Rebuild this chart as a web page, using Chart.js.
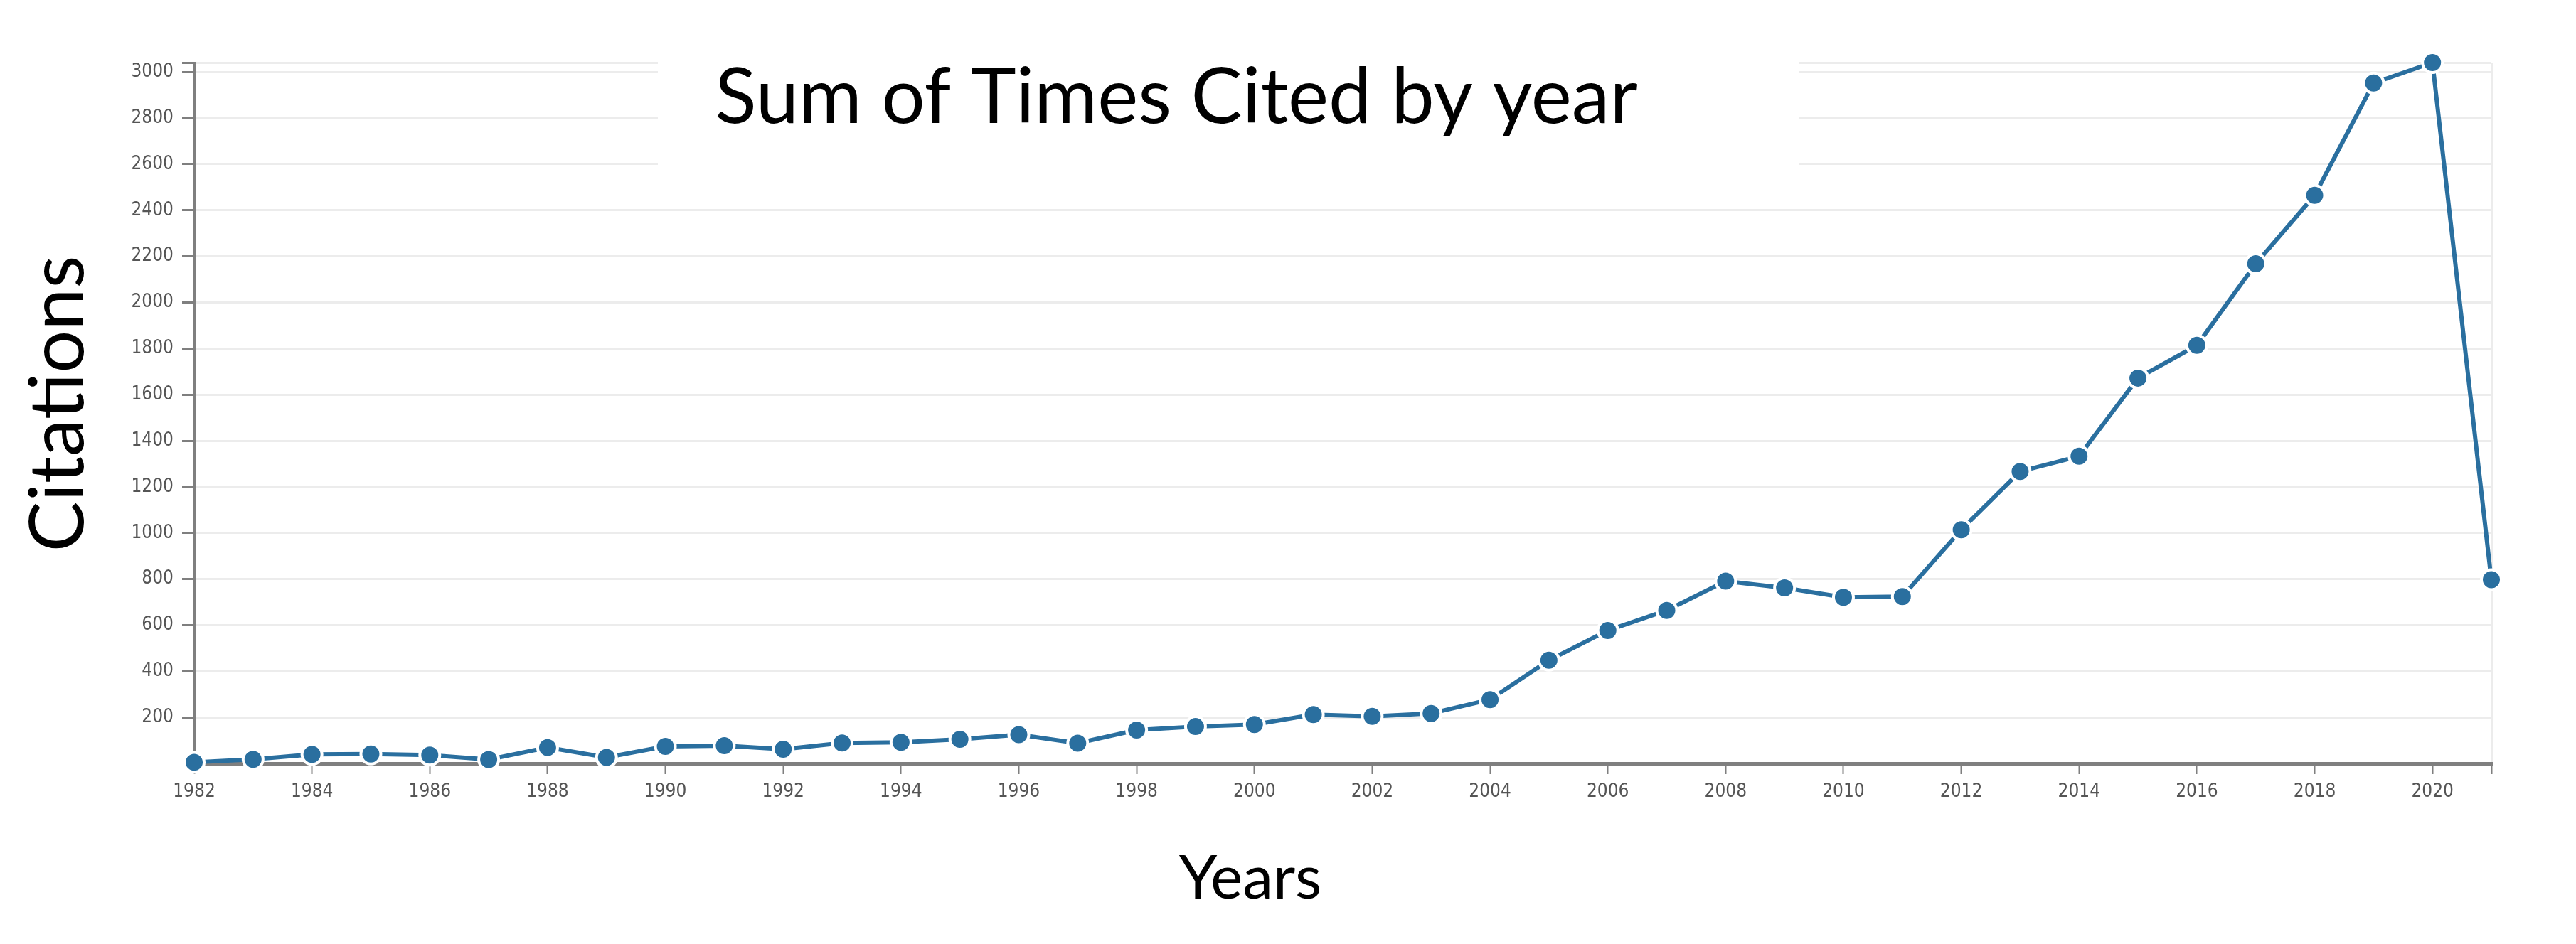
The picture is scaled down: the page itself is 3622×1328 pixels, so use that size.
<!DOCTYPE html>
<html>
<head>
<meta charset="utf-8">
<script src="https://cdn.jsdelivr.net/npm/chart.js@4/dist/chart.umd.min.js"></script>
<style>
  html, body { margin: 0; padding: 0; background: #fff; }
  canvas { display: block; }
</style>
</head>
<body>
<canvas id="c" width="3622" height="1328"></canvas>
<script>
// ---- data ----
const years = [1982,1983,1984,1985,1986,1987,1988,1989,1990,1991,1992,1993,1994,1995,1996,1997,1998,1999,2000,2001,2002,2003,2004,2005,2006,2007,2008,2009,2010,2011,2012,2013,2014,2015,2016,2017,2018,2019,2020,2021];
const citations = [5,18,39,41,36,17,69,26,74,77,62,89,92,105,125,88,145,160,169,212,204,217,277,448,577,664,791,762,721,724,1014,1267,1333,1672,1814,2168,2465,2952,3041,797];
const xTickValues = [1982,1984,1986,1988,1990,1992,1994,1996,1998,2000,2002,2004,2006,2008,2010,2012,2014,2016,2018,2020,2021];
const xTickLabels = ['1982','1984','1986','1988','1990','1992','1994','1996','1998','2000','2002','2004','2006','2008','2010','2012','2014','2016','2018','2020',''];
const yTickValues = [200,400,600,800,1000,1200,1400,1600,1800,2000,2200,2400,2600,2800,3000];
const chartTitle = 'Sum of Times Cited by year';
const xTitle = 'Years';
const yTitle = 'Citations';

const yMax = Math.max(...citations);
const lineColor = '#2a6f9f';
const axisColor = '#7f7f7f';
const tickFont = { family: "'DejaVu Sans Condensed', 'DejaVu Sans', sans-serif", size: 26 };

const textPlugin = {
  id: 'textPlugin',
  beforeDatasetsDraw(chart) {
    const ctx = chart.ctx;
    ctx.save();
    ctx.fillStyle = '#ffffff';
    ctx.fillRect(925, 70, 1605, 180);
    ctx.fillStyle = '#000';
    ctx.font = "108px Lato, 'Open Sans', sans-serif";
    ctx.textAlign = 'center';
    ctx.textBaseline = 'alphabetic';
    ctx.fillText(chartTitle, 1654, 173);
    ctx.restore();
  },
  afterDraw(chart) {
    const ctx = chart.ctx;
    ctx.save();
    ctx.fillStyle = '#000';
    ctx.textAlign = 'center';
    ctx.textBaseline = 'alphabetic';
    ctx.font = "86px Lato, 'Open Sans', sans-serif";
    ctx.fillText(xTitle, 1758, 1264);
    ctx.translate(117, 568);
    ctx.rotate(-Math.PI / 2);
    ctx.font = "106px Lato, 'Open Sans', sans-serif";
    ctx.fillText(yTitle, 0, 0);
    ctx.restore();
  }
};

new Chart(document.getElementById('c'), {
  type: 'line',
  data: {
    datasets: [{
      data: years.map((y, i) => ({ x: y, y: citations[i] })),
      borderColor: lineColor,
      backgroundColor: lineColor,
      borderWidth: 6,
      pointRadius: 14,
      pointBorderWidth: 4,
      pointBorderColor: '#ffffff',
      pointBackgroundColor: lineColor,
      tension: 0,
      clip: false
    }]
  },
  options: {
    responsive: false,
    animation: false,
    devicePixelRatio: 1,
    layout: { padding: { top: 88, right: 119, left: 0, bottom: 0 } },
    plugins: { legend: { display: false }, tooltip: { enabled: false }, title: { display: false } },
    scales: {
      x: {
        type: 'linear',
        min: years[0],
        max: years[years.length - 1],
        afterBuildTicks: (s) => { s.ticks = xTickValues.map(v => ({ value: v })); },
        afterFit: (s) => { s.height = 1328 - 1074; },
        ticks: {
          autoSkip: false,
          maxRotation: 0,
          color: '#555',
          font: tickFont,
          padding: 10,
          callback: (v) => { const i = xTickValues.indexOf(v); return i >= 0 ? xTickLabels[i] : ''; }
        },
        grid: {
          drawOnChartArea: true,
          color: (c) => (c.tick && c.tick.value === years[years.length - 1]) ? '#ececec' : 'rgba(0,0,0,0)',
          lineWidth: 3,
          tickColor: axisColor,
          tickLength: 15,
          tickWidth: 2
        },
        border: { display: true, color: axisColor, width: 5 }
      },
      y: {
        min: 0,
        max: yMax,
        afterBuildTicks: (s) => { s.ticks = yTickValues.concat([yMax]).map(v => ({ value: v })); },
        afterFit: (s) => { s.width = 273; },
        ticks: {
          autoSkip: false,
          color: '#555',
          font: tickFont,
          padding: 12,
          callback: (v) => yTickValues.includes(v) ? String(v) : ''
        },
        grid: {
          color: '#ececec',
          lineWidth: 3,
          tickColor: axisColor,
          tickLength: 17,
          tickWidth: 3
        },
        border: { display: true, color: axisColor, width: 3 }
      }
    }
  },
  plugins: [textPlugin]
});
</script>
</body>
</html>
